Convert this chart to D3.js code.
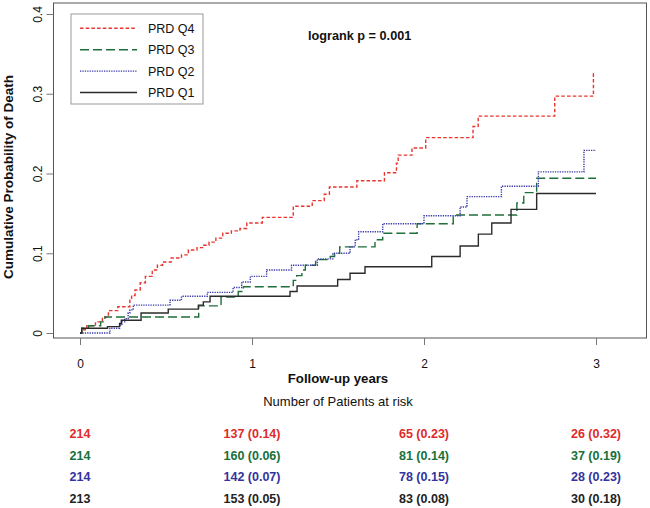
<!DOCTYPE html>
<html>
<head>
<meta charset="utf-8">
<script src="https://cdn.jsdelivr.net/npm/d3@7"></script>
<style>
  body { margin: 0; background: #fff; }
  text { font-family: "Liberation Sans", Arial, sans-serif; }
</style>
</head>
<body>
<svg id="canvas"></svg>
<script>
// step events [time in years, cumulative probability after event]
const q4 = [[0, 0], [0.01, 0.004], [0.04, 0.009], [0.09, 0.014], [0.13, 0.02], [0.165, 0.028], [0.22, 0.033],
  [0.29, 0.042], [0.30, 0.047], [0.32, 0.054], [0.35, 0.063], [0.38, 0.071], [0.42, 0.079], [0.45, 0.085],
  [0.48, 0.089], [0.53, 0.094], [0.59, 0.098], [0.63, 0.104], [0.68, 0.107], [0.72, 0.11], [0.75, 0.114],
  [0.79, 0.119], [0.83, 0.125], [0.88, 0.128], [0.93, 0.131], [0.97, 0.138], [1.06, 0.145], [1.24, 0.159],
  [1.35, 0.166], [1.42, 0.174], [1.45, 0.183], [1.61, 0.191], [1.77, 0.201], [1.84, 0.213], [1.85, 0.223],
  [1.93, 0.232], [2.01, 0.245], [2.285, 0.259], [2.315, 0.272], [2.76, 0.297], [2.985, 0.325], [3, 0.325]];
const q3 = [[0, 0], [0.01, 0.006], [0.05, 0.009], [0.12, 0.014], [0.145, 0.02], [0.69, 0.034], [0.82, 0.045],
  [0.92, 0.052], [0.95, 0.058], [1.24, 0.066], [1.26, 0.072], [1.29, 0.079], [1.31, 0.085], [1.37, 0.092],
  [1.455, 0.096], [1.48, 0.1], [1.51, 0.108], [1.715, 0.117], [1.76, 0.125], [1.96, 0.137], [2.17, 0.148],
  [2.54, 0.163], [2.58, 0.176], [2.655, 0.194], [3, 0.194]];
const q2 = [[0, 0], [0.174, 0.006], [0.23, 0.01], [0.245, 0.014], [0.26, 0.018], [0.28, 0.025], [0.29, 0.029],
  [0.31, 0.035], [0.523, 0.041], [0.59, 0.046], [0.74, 0.051], [0.89, 0.057], [0.94, 0.064], [0.99, 0.071],
  [1.085, 0.079], [1.23, 0.085], [1.38, 0.093], [1.47, 0.1], [1.57, 0.108], [1.60, 0.117], [1.62, 0.127],
  [1.76, 0.137], [2.0, 0.147], [2.21, 0.158], [2.25, 0.171], [2.45, 0.184], [2.665, 0.202], [2.93, 0.229], [3, 0.229]];
const q1 = [[0, 0], [0.01, 0.006], [0.16, 0.008], [0.23, 0.012], [0.24, 0.016], [0.355, 0.025], [0.513, 0.03],
  [0.688, 0.035], [0.717, 0.039], [0.756, 0.046], [1.221, 0.052], [1.262, 0.059], [1.498, 0.067], [1.57, 0.075],
  [1.657, 0.083], [2.045, 0.096], [2.21, 0.109], [2.316, 0.124], [2.394, 0.138], [2.506, 0.155], [2.655, 0.175], [3, 0.175]];

const groups = ["PRD Q4", "PRD Q3", "PRD Q2", "PRD Q1"];
const colors = ["#e8352f", "#1f6e3c", "#3a3aa8", "#2b2b2b"];
const textColors = ["#e02a2a", "#17703a", "#33339e", "#222222"];
const dashes = ["3.5,2.2", "9,4", "1.3,1.1", null];

const xTicks = [0, 1, 2, 3];
const yTicks = [0, 0.1, 0.2, 0.3, 0.4];
const riskTimes = [0, 1, 2, 3];
const atRisk = [[214, 137, 65, 26], [214, 160, 81, 37], [214, 142, 78, 28], [213, 153, 83, 30]];
const cumProb = [[null, 0.14, 0.23, 0.32], [null, 0.06, 0.14, 0.19], [null, 0.07, 0.15, 0.23], [null, 0.05, 0.08, 0.18]];

const width = 650, height = 508;
const box = { left: 53.5, right: 646.5, top: 3, bottom: 338 };

const svg = d3.select("#canvas").attr("width", width).attr("height", height);

const x = d3.scaleLinear().domain([0, 3]).range([80, 596]);
const y = d3.scaleLinear().domain([0, 0.4]).range([333, 14]);

// plot frame
svg.append("rect")
  .attr("x", box.left).attr("y", box.top)
  .attr("width", box.right - box.left).attr("height", box.bottom - box.top)
  .attr("fill", "none").attr("stroke", "#555").attr("stroke-width", 1);

const xAxis = svg.append("g")
  .attr("transform", `translate(0, ${box.bottom})`)
  .call(d3.axisBottom(x).tickValues(xTicks).tickSize(7).tickPadding(14).tickFormat(d3.format("d")));
xAxis.select(".domain").remove();
xAxis.selectAll("line").attr("stroke", "#777");
xAxis.selectAll("text").attr("font-size", 12).attr("fill", "#111")
  .style("font-family", "'Liberation Sans', Arial, sans-serif");

const yAxis = svg.append("g")
  .attr("transform", `translate(${box.left}, 0)`)
  .call(d3.axisLeft(y).tickValues(yTicks).tickSize(7).tickFormat(d => d === 0 ? "0" : d3.format(".1f")(d)));
yAxis.select(".domain").remove();
yAxis.selectAll("line").attr("stroke", "#777");
yAxis.selectAll("text")
  .attr("x", null).attr("dy", null)
  .attr("text-anchor", "middle")
  .attr("transform", "translate(-12,0) rotate(-90)")
  .attr("font-size", 12).attr("fill", "#111")
  .style("font-family", "'Liberation Sans', Arial, sans-serif");

// curves
const line = d3.line().x(d => x(d[0])).y(d => y(d[1])).curve(d3.curveStepAfter);
[q4, q3, q2, q1].forEach((s, i) => {
  svg.append("path")
    .datum(s)
    .attr("d", line)
    .attr("fill", "none")
    .attr("stroke", colors[i])
    .attr("stroke-width", 1.4)
    .attr("stroke-dasharray", dashes[i]);
});

// legend
const legend = svg.append("g").attr("transform", "translate(71,14)");
legend.append("rect").attr("width", 132).attr("height", 90)
  .attr("fill", "#fff").attr("stroke", "#999").attr("stroke-width", 1);
groups.forEach((g, i) => {
  const row = legend.append("g").attr("transform", `translate(0, ${14.3 + i * 21.4})`);
  row.append("line").attr("x1", 9).attr("x2", 66)
    .attr("stroke", colors[i]).attr("stroke-width", 1.4).attr("stroke-dasharray", dashes[i]);
  row.append("text").attr("x", 77).attr("dy", "0.36em").attr("font-size", 12.5).attr("fill", "#111").text(g);
});

svg.append("text").attr("x", 308).attr("y", 39.5).attr("font-size", 12.7).attr("font-weight", "bold")
  .attr("fill", "#111").text("logrank p = 0.001");

// axis titles
svg.append("text").attr("transform", "translate(13,177) rotate(-90)").attr("text-anchor", "middle")
  .attr("font-size", 13.5).attr("font-weight", "bold").attr("fill", "#111").text("Cumulative Probability of Death");
svg.append("text").attr("x", x(1.5)).attr("y", 383).attr("text-anchor", "middle")
  .attr("font-size", 13.2).attr("font-weight", "bold").attr("fill", "#111").text("Follow-up years");
svg.append("text").attr("x", x(1.5)).attr("y", 406).attr("text-anchor", "middle")
  .attr("font-size", 13).attr("fill", "#111").text("Number of Patients at risk");

// risk table
atRisk.forEach((row, i) => {
  svg.append("g").selectAll("text")
    .data(row)
    .join("text")
    .attr("x", (d, j) => x(riskTimes[j]))
    .attr("y", 438 + i * 21.6)
    .attr("text-anchor", "middle")
    .attr("font-size", 12.5)
    .attr("font-weight", "bold")
    .attr("fill", textColors[i])
    .text((d, j) => cumProb[i][j] == null ? d : `${d} (${cumProb[i][j].toFixed(2)})`);
});
</script>
</body>
</html>
